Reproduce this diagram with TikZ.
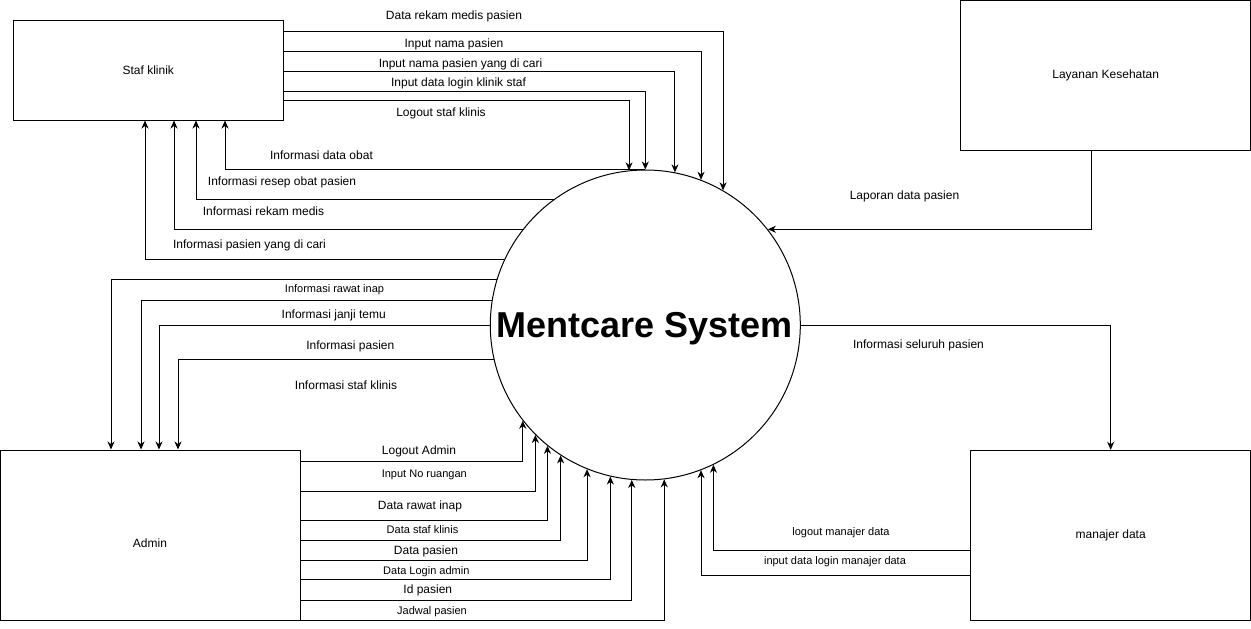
\documentclass[tikz,border=0pt]{standalone}
\usepackage{fontspec}
\setmainfont{Liberation Sans}
\usetikzlibrary{arrows.meta}
\begin{document}
\begin{tikzpicture}[x=1pt,y=-1pt,
  box/.style={draw, line width=1pt, rectangle, inner sep=0pt, font=\fontsize{12}{14}\selectfont},
  proc/.style={draw, circle, minimum size=310pt, line width=1pt, inner sep=0pt},
  flow/.style={draw, line width=1pt, -{Stealth[length=8pt,width=7pt,inset=2.5pt]}},
  lbl/.style={font=\fontsize{12}{14}\selectfont, text height=8.6pt, text depth=0pt, inner sep=0pt},
  slbl/.style={font=\fontsize{11}{13}\selectfont, text height=7.9pt, text depth=0pt, inner sep=0pt}]
\useasboundingbox[fill=white] (0,0) rectangle (1251,629);

% entities
\node[box, minimum width=270pt, minimum height=100pt] (staf) at (148.3,70) {Staf klinik};
\node[box, minimum width=290pt, minimum height=150pt] (lay) at (1105.7,75.5) {Layanan Kesehatan};
\node[box, minimum width=300pt, minimum height=170pt] (admin) at (150.5,535) {};
\node[lbl] (adminlbl) at (150,543) {Admin};
\node[box, minimum width=280pt, minimum height=170pt] (man) at (1110.7,535.3) {manajer data};
\node[proc] (mc) at (645.3,325) {};
\node[font=\bfseries\fontsize{36}{40}\selectfont, anchor=base, inner sep=0pt] (mctext) at (645,337) {Mentcare System};

% Staf klinik -> system
\draw[flow] (staf.east |- 0,31) -| (mc.60);
\draw[flow] (staf.east |- 0,51) -| (mc.69);
\draw[flow] (staf.east |- 0,71) -| (mc.79);
\draw[flow] (staf.east |- 0,91) -| (mc.90);
\draw[flow] (staf.east |- 0,100) -| (mc.96);
\node[lbl] (t1) at (454,15) {Data rekam medis pasien};
\node[lbl] (t2) at (454,43) {Input nama pasien};
\node[lbl] (t3) at (460.5,63) {Input nama pasien yang di cari};
\node[lbl] (t4) at (458.5,82) {Input data login klinik staf};
\node[lbl] (t5) at (441,112.5) {Logout staf klinis};

% system -> Staf klinik
\draw[flow] (mc.90) -| (225,0 |- staf.south);
\draw[flow] (mc.126) -| (196,0 |- staf.south);
\draw[flow] (mc.142) -| (174,0 |- staf.south);
\draw[flow] (mc.155) -| (145,0 |- staf.south);
\node[lbl] (s1) at (321.5,155) {Informasi data obat};
\node[lbl] (s2) at (282,181.5) {Informasi resep obat pasien};
\node[lbl] (s3) at (263.5,211) {Informasi rekam medis};
\node[lbl] (s4) at (249.5,244.5) {Informasi pasien yang di cari};

% system -> Admin
\draw[flow] (mc.163) -| (111,0 |- admin.north);
\draw[flow] (mc.171) -| (141,0 |- admin.north);
\draw[flow] (mc.180) -| (159,0 |- admin.north);
\draw[flow] (mc.193) -| (178,0 |- admin.north);
\node[slbl] (a1) at (334.5,288.5) {Informasi rawat inap};
\node[lbl] (a2) at (333.7,314) {Informasi janji temu};
\node[lbl] (a3) at (350.3,345) {Informasi pasien};
\node[lbl] (a4) at (346,385) {Informasi staf klinis};

% Admin -> system
\draw[flow] (admin.east |- 0,461) -| (mc.218);
\draw[flow] (admin.east |- 0,491) -| (mc.225);
\draw[flow] (admin.east |- 0,520) -| (mc.231);
\draw[flow] (admin.east |- 0,540) -| (mc.237);
\draw[flow] (admin.east |- 0,560) -| (mc.248);
\draw[flow] (admin.east |- 0,579) -| (mc.257);
\draw[flow] (admin.east |- 0,600) -| (mc.265);
\draw[flow] (admin.east |- 0,620) -| (mc.277);
\node[lbl] (b1) at (419,450) {Logout Admin};
\node[slbl] (b2) at (424.3,474) {Input No ruangan};
\node[lbl] (b3) at (420,505) {Data rawat inap};
\node[slbl] (b4) at (422.5,530) {Data staf klinis};
\node[lbl] (b5) at (426,550) {Data pasien};
\node[slbl] (b6) at (426.3,571) {Data Login admin};
\node[lbl] (b7) at (427.8,589.5) {Id pasien};
\node[slbl] (b8) at (432,610.5) {Jadwal pasien};

% manajer data
\draw[flow] (man.west |- 0,550) -| (mc.296);
\draw[flow] (man.west |- 0,575) -| (mc.291);
\node[slbl] (m1) at (841,531.5) {logout manajer data};
\node[slbl] (m2) at (835,561) {input data login manajer data};
\draw[flow] (mc.east) -| (man.north);
\node[lbl] (m3) at (918.5,344.5) {Informasi seluruh pasien};

% Layanan Kesehatan
\draw[flow] (1091,0 |- lay.south) |- (mc.38);
\node[lbl] (l1) at (904.5,195) {Laporan data pasien};
\end{tikzpicture}
\end{document}
